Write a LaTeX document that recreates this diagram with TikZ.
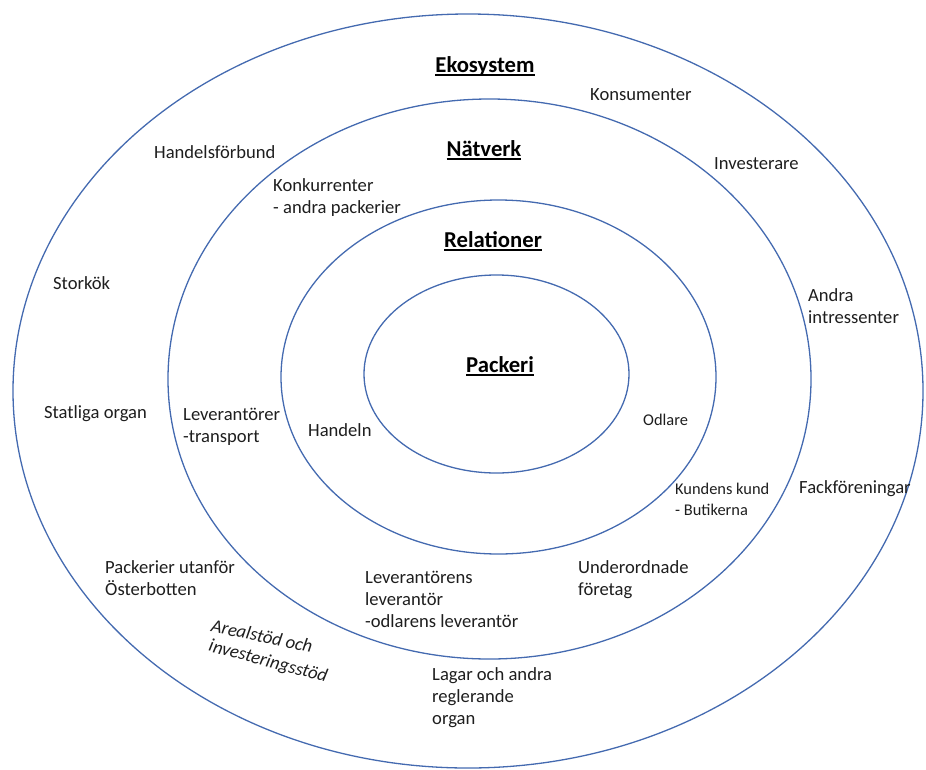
\documentclass[tikz,border=0pt]{standalone}
\usepackage{fontspec}
\setmainfont{Carlito}

\definecolor{ringblue}{RGB}{68,106,176}
\definecolor{txtgray}{RGB}{30,30,30}

% bold heading with a Word-like underline
\newcommand\headul[1]{\setbox0\hbox{\bfseries #1}\rlap{\rule[-3.7pt]{\wd0}{1.4pt}}\box0}

\begin{document}
\begin{tikzpicture}[x=1pt,y=-1pt,
    ring/.style={draw=ringblue, line width=1.3pt},
    head/.style={inner sep=0pt, anchor=base, text=black,
        font=\fontsize{22.7}{26}\selectfont},
    lbl/.style={inner sep=0pt, anchor=north west, align=left, text=txtgray,
        font=\fontsize{18.6}{22}\selectfont},
    lblsmall/.style={lbl, font=\fontsize{16.4}{21}\selectfont},
    lblit/.style={inner sep=0pt, text=txtgray, font=\fontsize{18.6}{22}\selectfont\itshape}]

    \useasboundingbox (0,0) rectangle (926,769);

    % the four rings
    \draw[ring] (468,391) ellipse [x radius=455pt, y radius=377pt];
    \draw[ring] (489.5,379) ellipse [x radius=321.5pt, y radius=280pt];
    \draw[ring] (498.5,377) ellipse [x radius=217.5pt, y radius=177pt];
    \draw[ring] (496.5,374) ellipse [x radius=132.5pt, y radius=99pt];

    % ring titles
    \node[head] (eko) at (485,72) {\headul{Ekosystem}};
    \node[head] (natverk) at (484,156) {\headul{Nätverk}};
    \node[head] (relation) at (493,247) {\headul{Relationer}};
    \node[head] (packeri) at (500,372) {\headul{Packeri}};

    % Ekosystem
    \node[lbl] (konsum) at (590,88) {Konsumenter};
    \node[lbl] (handforb) at (154,145) {Handelsförbund};
    \node[lbl] (invest) at (714,157) {Investerare};
    \node[lbl] (storkok) at (53,276) {Storkök};
    \node[lbl] (andra) at (808,288) {Andra\\intressenter};
    \node[lbl] (statliga) at (44,405) {Statliga organ};
    \node[lbl] (fack) at (799,480) {Fackföreningar};
    \node[lbl] (packutan) at (105,560) {Packerier utanför\\Österbotten};
    \node[lbl] (lagar) at (432,667) {Lagar och andra\\reglerande\\organ};
    \node[lblit, rotate=-12] (areal) at (262,636) {Arealstöd och};
    \node[lblit, rotate=-15] (invstod) at (268,662) {investeringsstöd};

    % Nätverk
    \node[lbl] (konkur) at (273,178) {Konkurrenter\\- andra packerier};
    \node[lbl] (levtrans) at (183,408) {Leverantörer\\-transport};
    \node[lblsmall] (kundens) at (675,483) {Kundens kund\\- Butikerna};
    \node[lbl] (underord) at (578,560) {Underordnade\\företag};
    \node[lbl] (levlev) at (365,571) {Leverantörens\\leverantör\\-odlarens leverantör};

    % Relationer
    \node[lbl] (handeln) at (308,423) {Handeln};
    \node[lblsmall] (odlare) at (643,414) {Odlare};

\end{tikzpicture}
\end{document}
